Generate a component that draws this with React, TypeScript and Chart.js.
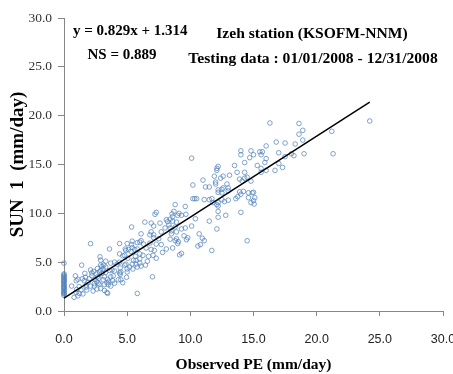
import React, { useEffect, useRef } from 'react';
import { Chart, registerables } from 'chart.js';

Chart.register(...registerables);

// Points on the y axis (observed PE = 0)
const zeroPE = [0, 0, 0, 0, 0, 0, 0, 0, 0, 0, 0, 0, 0, 0, 0, 0, 0, 0, 0, 0, 0, 0, 0, 0];
const zeroSun = [4.9, 3.8, 3.7, 3.6, 3.5, 3.4, 3.3, 3.2, 3.1, 3.0, 2.95, 2.8, 2.7, 2.6, 2.5, 2.4, 2.3, 2.25, 2.1, 2.0, 1.9, 1.8, 1.75, 1.6];

// Low range
const lowPE = [0.6, 0.8, 0.9, 0.95, 1.1, 1.1, 1.2, 1.2, 1.4, 1.5, 1.6, 1.75, 1.8, 2.0, 2.1, 2.1, 2.2, 2.2, 2.3, 2.4, 2.6, 2.6, 2.65, 2.65, 2.8, 2.8, 2.9, 2.9, 2.9, 3.1, 3.2, 3.2, 3.2, 3.3, 3.3, 3.4, 3.45, 3.45, 3.7, 3.7, 3.7, 3.8, 3.85, 4.0, 4.0, 4.2, 4.3, 4.4, 4.45, 4.5, 4.5, 4.65, 2.9, 2.85, 0.97, 1.45, 1.7, 1.9, 2.35, 2.55, 2.75, 3.0, 3.15, 3.1, 2.7, 2.4, 1.75, 1.35, 1.0, 3.6, 3.9, 3.5, 4.0, 3.4, 4.95, 1.65, 3.0, 3.3, 3.55, 2.45];
const lowSun = [2.55, 1.4, 3.6, 1.9, 3.25, 1.55, 2.5, 1.8, 4.7, 1.75, 3.1, 2.65, 2.15, 3.3, 2.55, 4.2, 3.9, 3.6, 2.05, 2.8, 3.0, 2.25, 4.35, 3.5, 2.75, 4.0, 4.7, 4.15, 2.3, 4.3, 3.5, 2.7, 2.1, 4.5, 5.1, 2.9, 3.25, 1.8, 3.5, 2.55, 4.9, 4.2, 3.1, 5.0, 4.1, 4.8, 3.2, 3.9, 3.75, 4.0, 3.2, 2.9, 5.2, 5.55, 3.1, 3.3, 3.45, 2.95, 4.05, 3.8, 3.35, 4.55, 4.7, 3.2, 2.85, 2.55, 2.45, 2.15, 2.2, 4.15, 3.6, 2.7, 2.85, 1.9, 3.45, 3.85, 3.85, 3.95, 3.05, 3.25];

// Lower-middle range
const midLowPE = [4.4, 5.0, 5.35, 3.6, 4.85, 5.1, 5.4, 4.4, 4.8, 5.7, 5.7, 4.9, 5.0, 4.8, 5.4, 6.0, 6.45, 6.6, 4.45, 5.2, 5.45, 5.8, 6.1, 5.0, 4.65, 5.05, 5.5, 5.65, 6.0, 4.4, 6.0, 6.25, 6.7, 7.05, 7.3, 9.15, 4.9, 5.3, 5.6, 5.8, 6.5, 6.9, 7.15, 7.8, 5.4, 5.8, 6.0, 6.1, 6.3, 6.8, 7.3, 7.7, 8.1, 8.6, 7.0, 5.8, 5.35, 2.1];
const midLowSun = [6.9, 6.9, 6.8, 6.35, 6.35, 6.3, 6.5, 5.85, 5.7, 5.2, 4.8, 4.8, 4.0, 4.7, 4.8, 4.9, 4.7, 5.1, 4.4, 4.5, 4.3, 4.5, 4.6, 4.3, 5.65, 5.4, 5.2, 5.6, 5.35, 5.0, 5.85, 5.7, 5.6, 5.7, 5.4, 5.75, 6.2, 6.1, 6.3, 6.35, 6.45, 6.3, 6.2, 6.0, 7.15, 7.0, 7.05, 7.2, 6.85, 6.95, 6.85, 6.8, 6.35, 6.45, 3.5, 1.8, 8.6, 6.9];

// Middle range
const midPE = [8.8, 9.6, 8.7, 9.1, 7.3, 7.2, 9.0, 9.3, 8.1, 8.2, 6.4, 7.6, 6.9, 8.6, 8.9, 7.1, 8.0, 8.4, 8.8, 6.9, 7.7, 8.5, 8.9, 9.6, 9.5, 6.8, 7.1, 6.1, 7.1, 7.5, 8.4, 9.05, 9.7, 8.55, 8.6, 8.4, 10.4, 9.65, 8.3, 8.5, 9.8, 10.7, 11.1, 10.95, 8.9, 8.8, 9.0, 10.6, 9.3, 11.7, 10.8, 9.3, 10.1, 12.1, 11.5, 14.5];
const midSun = [10.9, 10.7, 10.2, 10.0, 10.1, 9.9, 9.8, 9.8, 9.35, 9.15, 9.1, 9.0, 9.0, 9.2, 9.1, 8.7, 8.5, 8.5, 8.6, 8.1, 8.1, 8.2, 8.1, 8.5, 7.7, 7.8, 7.8, 7.9, 7.5, 7.4, 7.35, 7.1, 7.3, 9.95, 9.65, 9.4, 9.45, 9.9, 8.8, 7.9, 7.5, 7.9, 7.2, 7.45, 7.4, 7.2, 6.9, 6.65, 5.9, 6.2, 6.8, 8.4, 8.7, 8.4, 9.2, 7.2];

// Upper-middle range
const midHighPE = [10.1, 13.5, 12.2, 12.1, 12.1, 13.1, 13.7, 14.3, 14.5, 11.9, 12.4, 12.6, 12.0, 12.0, 11.0, 10.2, 11.2, 11.5, 12.6, 12.9, 13.0, 12.5, 12.2, 12.2, 12.5, 13.0, 13.9, 14.0, 14.2, 14.6, 14.9, 14.6, 15.0, 14.8, 13.6, 13.75, 12.5, 12.7, 13.0, 12.2, 12.1, 11.7, 11.5, 10.2, 10.35, 10.5, 12.2, 12.2, 12.8, 14.0, 11.8, 11.1, 15.1, 15.0, 15.05, 14.3, 13.9, 14.1, 14.8, 14.3, 12.2];
const midHighSun = [15.65, 14.9, 14.8, 14.6, 14.4, 13.9, 14.2, 14.2, 13.7, 13.8, 13.6, 13.8, 13.2, 13.0, 13.4, 12.9, 12.7, 12.7, 12.6, 13.0, 12.6, 12.45, 12.4, 12.15, 12.1, 12.3, 12.2, 11.95, 12.25, 12.1, 12.1, 11.6, 11.3, 11.1, 11.5, 11.7, 11.4, 11.2, 11.35, 11.1, 10.9, 11.5, 11.4, 11.5, 11.5, 11.5, 10.75, 10.2, 9.8, 10.1, 11.1, 11.4, 11.6, 12.15, 10.95, 13.6, 13.5, 13.3, 13.3, 15.2, 9.6];

// High range
const highPE = [14.0, 14.0, 14.8, 15.0, 14.7, 15.5, 15.7, 15.6, 16.0, 17.0, 17.5, 18.0, 18.2, 19.0, 17.0, 17.3, 16.7, 16.0, 15.3, 15.6, 15.6, 15.9, 16.3, 18.6, 18.9, 18.6, 18.9, 16.8, 17.5, 18.3, 16.0, 21.2, 21.3, 24.2];
const highSun = [16.4, 16.0, 16.4, 16.0, 15.7, 16.3, 16.3, 16.0, 15.6, 16.2, 15.8, 16.1, 15.9, 16.1, 15.1, 14.7, 14.4, 14.4, 14.9, 14.6, 14.2, 15.2, 19.25, 19.2, 18.5, 18.1, 17.5, 17.3, 17.2, 17.1, 16.9, 18.4, 16.1, 19.45];

// Regression line: y = 0.829x + 1.314, drawn over the observed range
const fitSlope = 0.829;
const fitIntercept = 1.314;
const fitRangeX = [0, 24.2];

const axisMin = 0;
const axisMax = 30;
const axisStep = 5;

const observedPE = [...zeroPE, ...lowPE, ...midLowPE, ...midPE, ...midHighPE, ...highPE];
const sun1 = [...zeroSun, ...lowSun, ...midLowSun, ...midSun, ...midHighSun, ...highSun];

const annotations = [
  { text: 'y = 0.829x + 1.314', x: 73, y: 35, align: 'left', size: 15 },
  { text: 'NS = 0.889', x: 122, y: 59, align: 'center', size: 15 },
  { text: 'Izeh station (KSOFM-NNM)', x: 312, y: 38, align: 'center', size: 15.6 },
  { text: 'Testing data : 01/01/2008 - 12/31/2008', x: 313, y: 63, align: 'center', size: 15.6 },
];

const serif = '"Liberation Serif", "Times New Roman", serif';
const sans = '"Liberation Sans", Arial, sans-serif';

const annotationPlugin = {
  id: 'textAnnotations',
  afterDraw(chart: any) {
    const ctx = chart.ctx;
    ctx.save();
    ctx.fillStyle = '#000';
    ctx.textBaseline = 'alphabetic';
    for (const a of annotations) {
      ctx.font = `bold ${a.size}px ${serif}`;
      ctx.textAlign = a.align;
      ctx.fillText(a.text, a.x, a.y);
    }
    ctx.restore();
  },
};

export default function App() {
  const canvasRef = useRef<HTMLCanvasElement | null>(null);

  useEffect(() => {
    if (!canvasRef.current) return;
    const points = observedPE.map((x, i) => ({ x, y: sun1[i] }));
    const line = fitRangeX.map((x) => ({ x, y: fitSlope * x + fitIntercept }));

    const chart = new Chart(canvasRef.current, {
      type: 'scatter',
      data: {
        datasets: [
          {
            label: 'fit',
            data: line,
            showLine: true,
            borderColor: '#000',
            borderWidth: 1.5,
            pointRadius: 0,
            fill: false,
          },
          {
            label: 'SUN 1',
            data: points,
            pointStyle: 'circle',
            pointRadius: 2.3,
            pointBorderWidth: 1,
            borderColor: 'rgba(79,129,189,0.72)',
            backgroundColor: 'rgba(255,255,255,0)',
            showLine: false,
            clip: false,
          },
        ],
      },
      options: {
        responsive: false,
        animation: false,
        layout: { padding: { left: 0, right: 10, top: 18, bottom: 0 } },
        plugins: {
          legend: { display: false },
          tooltip: { enabled: false },
        },
        scales: {
          x: {
            type: 'linear',
            min: axisMin,
            max: axisMax,
            ticks: {
              stepSize: axisStep,
              callback: (v: any) => Number(v).toFixed(1),
              font: { family: sans, size: 12.5 },
              color: '#222',
              padding: 16,
            },
            grid: { drawOnChartArea: false, drawTicks: true, tickLength: 5, color: '#868686' },
            border: { color: '#868686', width: 1 },
            title: {
              display: true,
              text: 'Observed PE (mm/day)',
              font: { family: serif, size: 15.5, weight: 'bold' },
              color: '#000',
              padding: { top: 2, bottom: 0 },
            },
            afterFit: (s: any) => {
              s.height = 63;
              s.paddingLeft = 0;
              s.paddingRight = 0;
            },
          },
          y: {
            type: 'linear',
            min: axisMin,
            max: axisMax,
            ticks: {
              stepSize: axisStep,
              callback: (v: any) => Number(v).toFixed(1),
              font: { family: serif, size: 13.5 },
              color: '#333',
              padding: 6,
            },
            grid: { drawOnChartArea: false, drawTicks: true, tickLength: 6, color: '#868686' },
            border: { color: '#868686', width: 1 },
            title: {
              display: true,
              text: 'SUN  1  (mm/day)',
              font: { family: serif, size: 19, weight: 'bold' },
              color: '#000',
              padding: { top: 7, bottom: 0 },
            },
            afterFit: (s: any) => {
              s.width = 64;
              s.paddingTop = 0;
              s.paddingBottom = 0;
            },
          },
        },
      },
      plugins: [annotationPlugin],
    });
    return () => chart.destroy();
  }, []);

  return (
    <div style={{ position: 'absolute', left: 0, top: 0, width: 453, height: 374, background: '#fff' }}>
      <canvas ref={canvasRef} width={453} height={374} style={{ display: 'block' }} />
    </div>
  );
}
